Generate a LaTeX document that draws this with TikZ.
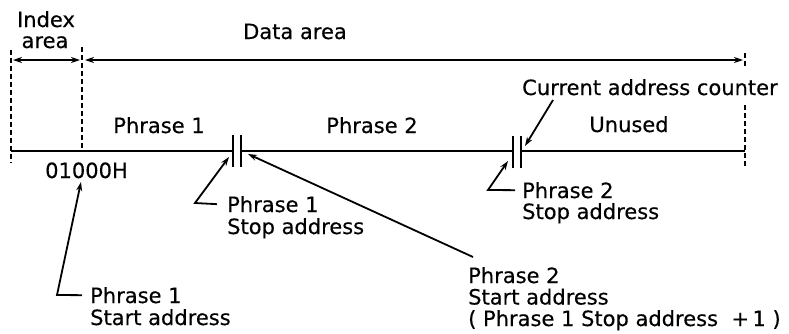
\documentclass[tikz,border=0pt]{standalone}
\usepackage{fontspec}
\setmainfont{DejaVu Sans}[FakeBold=0.35]
\usetikzlibrary{arrows.meta}
\begin{document}
\begin{tikzpicture}[x=1pt,y=-1pt,
  lbl/.style={inner sep=0pt, anchor=base west, font=\fontsize{21}{21.5}\selectfont},
  ctr/.style={inner sep=0pt, anchor=base, font=\fontsize{21}{21.5}\selectfont},
  ln/.style={line width=1.8pt},
  dsh/.style={line width=2pt, dash pattern=on 5pt off 3pt},
  tip/.style={ln, -{Stealth[length=9pt,width=6pt]}},
  dtip/.style={ln, {Stealth[length=9pt,width=6pt]}-{Stealth[length=9pt,width=6pt]}},
]
\useasboundingbox (0,0) rectangle (789,333);
% boundary coordinates
\coordinate (lt) at (11,50);   \coordinate (lb) at (11,163);
\coordinate (it) at (82,47);   \coordinate (ib) at (82,151);
\coordinate (rt) at (745,53);  \coordinate (rm1) at (745,68);
\coordinate (rm2) at (745,105);\coordinate (rb) at (745,167);
% dashed boundaries
\draw[dsh] (lt) -- (lb);
\draw[dsh] (it) -- (ib);
\draw[dsh] (rt) -- (rm1);
\draw[dsh] (rm2) -- (rb);
% area arrows
\coordinate (ia1) at (13,60);  \coordinate (ia2) at (80,60);
\coordinate (da1) at (85,60);  \coordinate (da2) at (743,60);
\draw[dtip] (ia1) -- (ia2);
\draw[dtip] (da1) -- (da2);
% main line with breaks
\coordinate (m0) at (11,151);  \coordinate (b1a) at (233,151);
\coordinate (b1b) at (241,151);\coordinate (b2a) at (513,151);
\coordinate (b2b) at (521,151);\coordinate (m1) at (745,151);
\draw[ln] (m0) -- (b1a);
\draw[ln] (b1b) -- (b2a);
\draw[ln] (b2b) -- (m1);
\draw[ln] (233,135) -- (233,167);
\draw[ln] (241,135) -- (241,167);
\draw[ln] (513,136) -- (513,168);
\draw[ln] (521,136) -- (521,168);
% texts
\node[ctr] (idx1) at (46,27) {Index};
\node[ctr] (idx2) at (45,48) {area};
\node[ctr] (data) at (295,39) {Data area};
\node[ctr] (ph1) at (159,133) {Phrase 1};
\node[ctr] (ph2) at (372,133) {Phrase 2};
\node[ctr] (unused) at (629,132) {Unused};
\node[lbl] (cac) at (522,95) {Current address counter};
\node[lbl] (addr) at (45,178) {01000H};
\node[lbl] (p1soA) at (227,212) {Phrase 1};
\node[lbl] (p1soB) at (227,234) {Stop address};
\node[lbl] (p2soA) at (522,198) {Phrase 2};
\node[lbl] (p2soB) at (522,219) {Stop address};
\node[lbl] (p1saA) at (90,303) {Phrase 1};
\node[lbl] (p1saB) at (90,325) {Start address};
\node[lbl] (p2saA) at (468,283) {Phrase 2};
\node[lbl] (p2saB) at (468,304.5) {Start address};
\node[lbl] (p2saC) at (468,326) {( Phrase 1 Stop address\ \ +\,1 )};
% leaders
\coordinate (c1) at (57,295);   \coordinate (t1) at (81,182);
\draw[tip] ([xshift=-8pt]p1saA.west) -- (c1) -- (t1);
\coordinate (c2) at (195,203);  \coordinate (t2) at (229,157);
\draw[tip] ([xshift=-10pt]p1soA.west) -- (c2) -- (t2);
\coordinate (c3) at (488,190);  \coordinate (t3) at (508,161);
\draw[tip] ([xshift=-7pt]p2soA.west) -- (c3) -- (t3);
\coordinate (s4) at (473,257);  \coordinate (t4) at (248,154);
\draw[tip] (s4) -- (t4);
\coordinate (s5) at (553,100);  \coordinate (t5) at (525,146);
\draw[tip] (s5) -- (t5);
\end{tikzpicture}
\end{document}
